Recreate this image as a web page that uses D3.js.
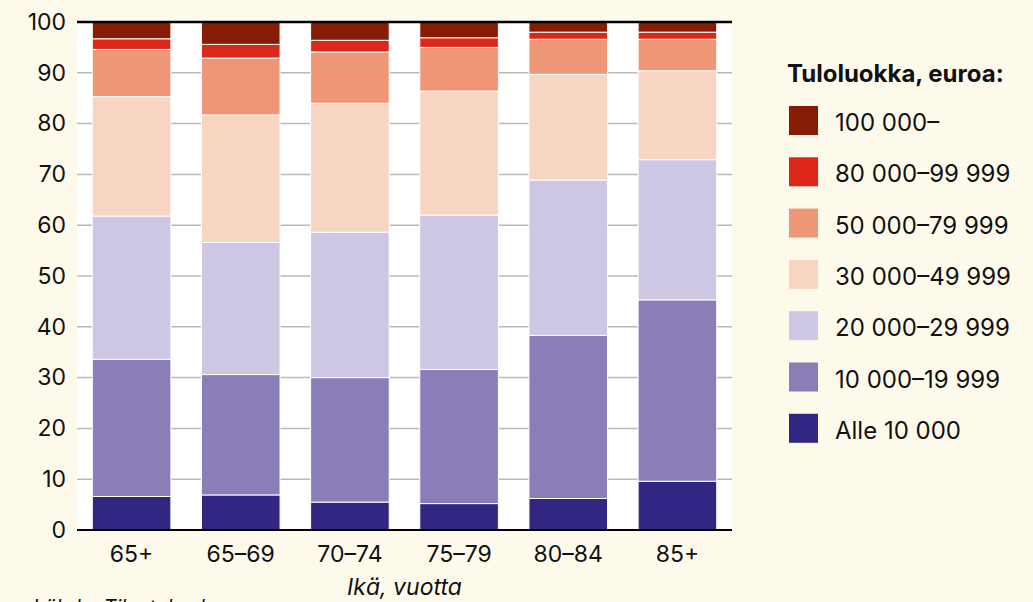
<!DOCTYPE html>
<html>
<head>
<meta charset="utf-8">
<script src="https://cdn.jsdelivr.net/npm/d3@7"></script>
<style>
  html, body { margin: 0; padding: 0; background: #fefaeb; }
  svg { display: block; font-family: Inter, "Noto Sans", sans-serif; }
</style>
</head>
<body>
<svg id="chart" width="1033" height="602"></svg>
<script>
// age groups (x categories)
const ages = ["65+", "65–69", "70–74", "75–79", "80–84", "85+"];

// income classes, bottom to top
const classes = ["Alle 10 000", "10 000–19 999", "20 000–29 999", "30 000–49 999",
                 "50 000–79 999", "80 000–99 999", "100 000–"];
const colors = ["#312782", "#8b7db8", "#cdc7e3", "#f8d5c3", "#ee9676", "#dd2718", "#861c03"];

// share of persons (%) per class, one value per age group
const alle10 = [6.6, 6.9, 5.5, 5.2, 6.2, 9.6];
const k10_19 = [27.0, 23.7, 24.5, 26.4, 32.1, 35.7];
const k20_29 = [28.2, 26.0, 28.6, 30.4, 30.6, 27.6];
const k30_49 = [23.5, 25.1, 25.4, 24.4, 20.8, 17.5];
const k50_79 = [9.3, 11.2, 10.1, 8.6, 6.9, 6.2];
const k80_99 = [2.1, 2.7, 2.3, 1.9, 1.4, 1.4];
const k100 = [3.3, 4.4, 3.6, 3.1, 2.0, 2.0];

const yTicks = [0, 10, 20, 30, 40, 50, 60, 70, 80, 90, 100];

const seriesValues = [alle10, k10_19, k20_29, k30_49, k50_79, k80_99, k100];
const rows = ages.map((a, i) => {
    const r = { age: a };
    classes.forEach((c, j) => r[c] = seriesValues[j][i]);
    return r;
});

const svg = d3.select("#chart");
const M = { left: 77, right: 732, top: 22, bottom: 530 };

/* Scale */
const x = d3.scaleBand()
            .domain(ages)
            .range([M.left, M.right])
            .paddingInner(0.28)
            .paddingOuter(0.14);

const y = d3.scaleLinear()
            .domain([0, 100])
            .range([M.bottom, M.top]);

const color = d3.scaleOrdinal().domain(classes).range(colors);

/* Plot background */
svg.append("rect")
    .attr("x", M.left)
    .attr("y", M.top)
    .attr("width", M.right - M.left)
    .attr("height", M.bottom - M.top)
    .attr("fill", "#ffffff");

/* Grid lines */
svg.append("g")
    .selectAll("line")
    .data(yTicks.filter(t => t > 0 && t < 100)).enter()
    .append("line")
    .attr("x1", M.left)
    .attr("x2", M.right)
    .attr("y1", d => y(d))
    .attr("y2", d => y(d))
    .attr("stroke", "#b9b9b9")
    .attr("stroke-width", 1.5);

/* Stacked bars */
const stack = d3.stack().keys(classes)(rows);

svg.append("g")
    .selectAll("g")
    .data(stack).enter()
    .append("g")
    .attr("fill", d => color(d.key))
    .selectAll("rect")
    .data(d => d).enter()
    .append("rect")
    .attr("x", d => x(d.data.age))
    .attr("y", d => y(Math.min(d[1], 100)))
    .attr("width", x.bandwidth())
    .attr("height", d => y(d[0]) - y(Math.min(d[1], 100)))
    .attr("stroke", "#ffffff")
    .attr("stroke-width", 1);

/* Axis lines */
svg.append("line")
    .attr("x1", M.left).attr("x2", M.right)
    .attr("y1", y(100)).attr("y2", y(100))
    .attr("stroke", "#000").attr("stroke-width", 2.5);

svg.append("line")
    .attr("x1", M.left).attr("x2", M.right)
    .attr("y1", y(0)).attr("y2", y(0))
    .attr("stroke", "#000").attr("stroke-width", 2);

/* Y tick labels */
const yAxis = d3.axisLeft(y).tickValues(yTicks).tickSize(0).tickPadding(11);
svg.append("g")
    .attr("transform", `translate(${M.left}, 0)`)
    .call(yAxis)
    .call(g => g.select(".domain").remove())
    .selectAll("text")
    .attr("font-size", 23)
    .attr("font-family", "Inter, sans-serif")
    .attr("fill", "#111");

/* X tick labels */
const xAxis = d3.axisBottom(x).tickSize(0).tickPadding(16);
svg.append("g")
    .attr("transform", `translate(0, ${M.bottom})`)
    .call(xAxis)
    .call(g => g.select(".domain").remove())
    .selectAll("text")
    .attr("font-size", 23)
    .attr("font-family", "Inter, sans-serif")
    .attr("fill", "#111");

/* Axis title */
svg.append("text")
    .attr("x", (M.left + M.right) / 2)
    .attr("y", 595)
    .attr("text-anchor", "middle")
    .attr("font-size", 23)
    .attr("font-style", "italic")
    .attr("fill", "#111")
    .text("Ikä, vuotta");

/* Source, cut at the bottom edge */
svg.append("text")
    .attr("x", 33)
    .attr("y", 614)
    .attr("font-size", 20)
    .attr("font-style", "italic")
    .attr("fill", "#111")
    .text("Lähde: Tilastokeskus");

/* Legend */
const legend = svg.append("g").attr("transform", "translate(789, 0)");

legend.append("text")
    .attr("x", -2)
    .attr("y", 82)
    .attr("font-size", 24)
    .attr("font-weight", "bold")
    .attr("fill", "#111")
    .text("Tuloluokka, euroa:");

const items = legend.selectAll(".item")
    .data(classes.slice().reverse()).enter()
    .append("g")
    .attr("class", "item")
    .attr("transform", (d, i) => `translate(0, ${106 + i * 51.3})`);

items.append("rect")
    .attr("width", 29)
    .attr("height", 29)
    .attr("fill", d => color(d));

items.append("text")
    .attr("x", 46)
    .attr("y", 25)
    .attr("font-size", 24)
    .attr("fill", "#111")
    .text(d => d);
</script>
</body>
</html>
